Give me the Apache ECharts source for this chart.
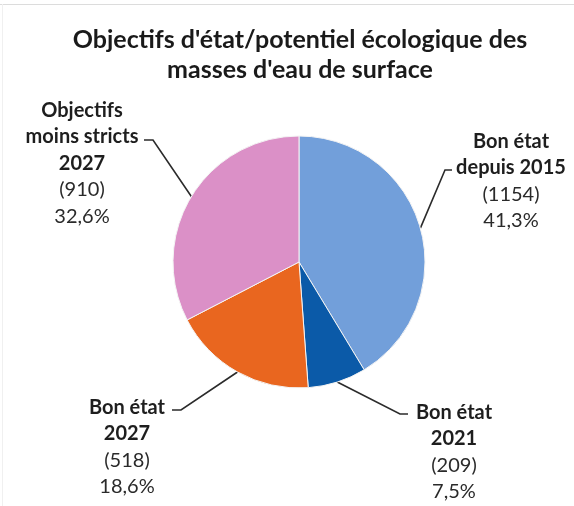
<!DOCTYPE html>
<html>
<head>
<meta charset="utf-8">
<script src="https://cdn.jsdelivr.net/npm/echarts@6/dist/echarts.min.js"></script>
<style>
  html, body { margin: 0; padding: 0; background: #ffffff; }
  #chart { width: 574px; height: 506px; }
</style>
</head>
<body>
<div id="chart"></div>
<script>
// Surface water bodies: ecological status / potential objectives
const titleText = "Objectifs d'état/potentiel écologique des\nmasses d'eau de surface";
const categories = ['Bon état\ndepuis 2015', 'Bon état\n2021', 'Bon état\n2027', 'Objectifs\nmoins stricts\n2027'];
const counts = [1154, 209, 518, 910];
const sliceColors = ['#729fda', '#0b5aa8', '#e9661f', '#db90c7'];

const FONT = 'Lato, "Open Sans", sans-serif';
const total = counts.reduce((a, b) => a + b, 0);

// Label block placement per slice: centre x, top y, and where the leader line meets the text
const labelPlacement = [
  { cx: 511, top: 128, elbow: [445, 170], end: [452, 170] },
  { cx: 454, top: 399, elbow: [400, 414], end: [408, 414] },
  { cx: 127, top: 394, elbow: [181, 410], end: [172, 410] },
  { cx: 82,  top: 97,  elbow: [153, 140], end: [144, 140] }
];

const data = categories.map((name, i) => ({
  name: name,
  value: counts[i],
  itemStyle: { color: sliceColors[i] }
}));

const chart = echarts.init(document.getElementById('chart'), null, { renderer: 'canvas' });

chart.setOption({
  backgroundColor: '#ffffff',
  animation: false,
  title: {
    text: titleText,
    left: 300,
    top: 25,
    padding: 0,
    textAlign: 'center',
    textStyle: {
      fontFamily: FONT,
      fontSize: 25,
      fontWeight: 'bold',
      color: '#1a1a1a',
      lineHeight: 30
    }
  },
  graphic: [
    { type: 'line', shape: { x1: 0, y1: 4.5, x2: 574, y2: 4.5 }, style: { stroke: '#dcdcdc', lineWidth: 1 } },
    { type: 'line', shape: { x1: 2.5, y1: 4, x2: 2.5, y2: 506 }, style: { stroke: '#f0f0f0', lineWidth: 1 } }
  ],
  series: [{
    type: 'pie',
    center: [299, 262],
    radius: [0, 126],
    startAngle: 90,
    clockwise: true,
    data: data,
    itemStyle: { borderColor: '#f4f4f4', borderWidth: 1 },
    label: {
      show: true,
      position: 'outside',
      align: 'center',
      overflow: 'none',
      width: 200,
      fontFamily: FONT,
      color: '#222',
      formatter: p => {
        const nameLines = p.name.split('\n').map(s => '{b|' + s + '}');
        const pct = (p.value / total * 100).toFixed(1).replace('.', ',') + '%';
        return nameLines.concat(['{n|(' + p.value + ')}', '{n|' + pct + '}']).join('\n');
      },
      rich: {
        b: { fontFamily: FONT, fontSize: 20, fontWeight: 'bold', color: '#1e1e1e', lineHeight: 26.5, align: 'center' },
        n: { fontFamily: FONT, fontSize: 20, fontWeight: 'normal', color: '#2a2a2a', lineHeight: 26.5, align: 'center' }
      }
    },
    labelLine: {
      show: true,
      lineStyle: { color: '#2b2b2b', width: 1.6 }
    },
    labelLayout: params => {
      const pl = labelPlacement[params.dataIndex];
      const start = params.labelLinePoints ? params.labelLinePoints[0] : pl.elbow;
      return {
        x: pl.cx,
        y: pl.top,
        align: 'center',
        verticalAlign: 'top',
        labelLinePoints: [start, pl.elbow, pl.end]
      };
    },
    emphasis: { disabled: true }
  }]
});
</script>
</body>
</html>
